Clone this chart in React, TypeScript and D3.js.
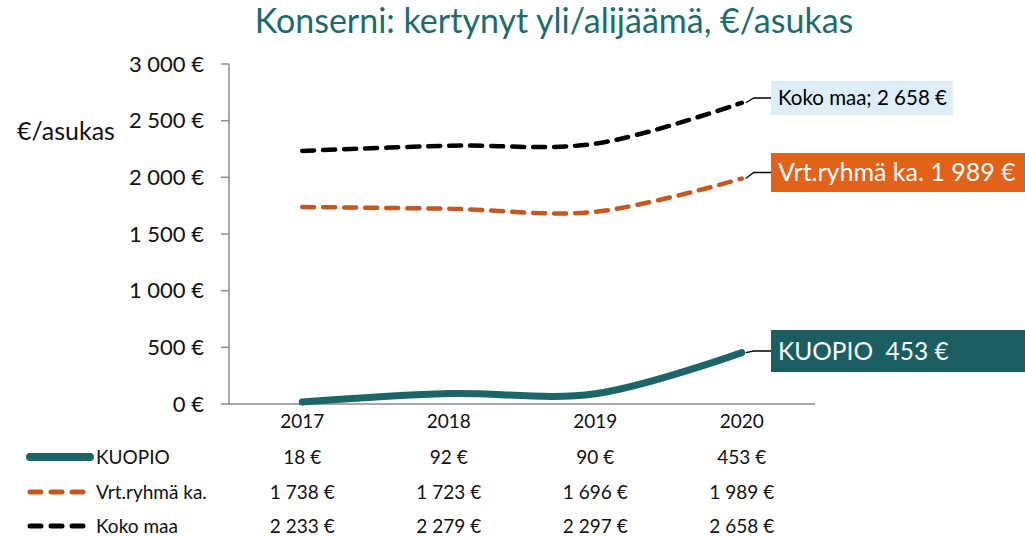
import React from "react";
import * as d3 from "d3";

const years = ["2017", "2018", "2019", "2020"];
const kuopio = [18, 92, 90, 453];
const vrt = [1738, 1723, 1696, 1989];
const koko = [2233, 2279, 2297, 2658];
const yTicks = [0, 500, 1000, 1500, 2000, 2500, 3000];
const seriesNames = ["KUOPIO", "Vrt.ryhmä ka.", "Koko maa"];
const endLabels = ["KUOPIO\u00a0\u00a0453 €", "Vrt.ryhmä ka. 1 989 €", "Koko maa; 2 658 €"];

const W = 1025;
const H = 537;
const FONT = "Lato, 'Open Sans', sans-serif";

const fmt = (v: number) => {
  const s = String(Math.round(v));
  const parts: string[] = [];
  let rest = s;
  while (rest.length > 3) {
    parts.unshift(rest.slice(-3));
    rest = rest.slice(0, -3);
  }
  parts.unshift(rest);
  return parts.join(" ") + " €";
};

export default function App() {
  const x = d3.scaleBand<string>().domain(years).range([229, 815]);
  const y = d3.scaleLinear().domain([0, 3000]).range([404, 64]);
  const cx = (i: number) => (x(years[i]) as number) + x.bandwidth() / 2;
  const line = d3
    .line<number>()
    .x((_, i) => cx(i))
    .y((d) => y(d))
    .curve(d3.curveCatmullRom.alpha(0.5));

  const series = [
    { name: seriesNames[0], data: kuopio, color: "#1d6668", width: 7, dash: "", box: "#1b5e61", boxText: "#ffffff", fs: 24.5, bx: 771, by: 330, bw: 254, bh: 42 },
    { name: seriesNames[1], data: vrt, color: "#c4581e", width: 4.5, dash: "12 9", box: "#e2621a", boxText: "#ffffff", fs: 25, bx: 771, by: 153, bw: 254, bh: 39 },
    { name: seriesNames[2], data: koko, color: "#000000", width: 4.5, dash: "12 9", box: "#ddeef9", boxText: "#000000", fs: 20.5, bx: 771, by: 81, bw: 182, bh: 34 },
  ];

  const rowsY = [457, 492, 526];

  return (
    <svg width={W} height={H} style={{ position: "absolute", left: 0, top: 0, background: "#fff" }} fontFamily={FONT}>
      <text x={554} y={33} textAnchor="middle" fontSize={34} fill="#1e6b6c">
        Konserni: kertynyt yli/alijäämä, €/asukas
      </text>
      {/* y axis */}
      <line x1={229} x2={229} y1={y(3000)} y2={y(0)} stroke="#8c8c8c" strokeWidth={1.5} />
      {yTicks.map((t) => (
        <g key={t}>
          <line x1={221} x2={229} y1={y(t)} y2={y(t)} stroke="#8c8c8c" strokeWidth={1.5} />
          <text x={204} y={y(t)} dy="0.35em" textAnchor="end" fontSize={22} fill="#111">
            {fmt(t)}
          </text>
        </g>
      ))}
      <text x={17} y={131} dy="0.35em" fontSize={25} fill="#111">
        €/asukas
      </text>
      {/* x axis */}
      <line x1={229} x2={815} y1={y(0)} y2={y(0)} stroke="#8c8c8c" strokeWidth={1.5} />
      {years.map((yr, i) => (
        <text key={yr} x={cx(i)} y={421} dy="0.35em" textAnchor="middle" fontSize={19} fill="#111">
          {yr}
        </text>
      ))}
      {/* lines */}
      {series
        .slice()
        .reverse()
        .map((s) => (
          <path
            key={s.name}
            d={line(s.data) as string}
            fill="none"
            stroke={s.color}
            strokeWidth={s.width}
            strokeDasharray={s.dash || undefined}
            strokeLinecap="round"
          />
        ))}
      {/* end labels */}
      {series.map((s, k) => {
        const ex = cx(3);
        const ey = y(s.data[3]);
        const my = s.by + s.bh / 2;
        return (
          <g key={s.name}>
            <polyline points={`${ex + 4},${ey} ${ex + 12},${my} ${s.bx},${my}`} fill="none" stroke="#000" strokeWidth={1.3} />
            <rect x={s.bx} y={s.by} width={s.bw} height={s.bh} fill={s.box} />
            <text x={s.bx + 7} y={my} dy="0.35em" fontSize={s.fs} fill={s.boxText}>
              {endLabels[k]}
            </text>
          </g>
        );
      })}
      {/* data table */}
      {series.map((s, k) => (
        <g key={s.name}>
          <line
            x1={30}
            x2={90}
            y1={rowsY[k]}
            y2={rowsY[k]}
            stroke={s.color}
            strokeWidth={k === 0 ? 8 : 5}
            strokeDasharray={k === 0 ? undefined : "11 10"}
            strokeLinecap="round"
          />
          <text x={96} y={rowsY[k]} dy="0.35em" fontSize={19} fill="#111">
            {s.name}
          </text>
          {s.data.map((v, i) => (
            <text key={i} x={cx(i)} y={rowsY[k]} dy="0.35em" textAnchor="middle" fontSize={19} fill="#111">
              {fmt(v)}
            </text>
          ))}
        </g>
      ))}
    </svg>
  );
}
